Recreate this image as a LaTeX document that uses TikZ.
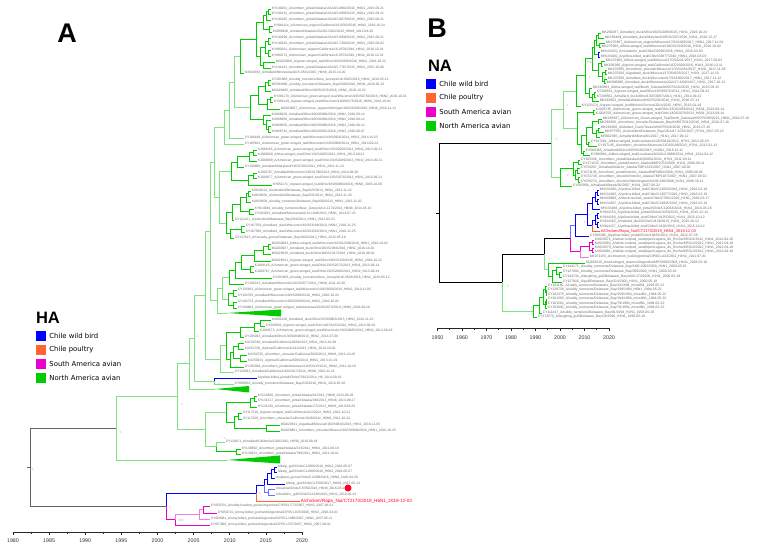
\documentclass[tikz,border=0pt]{standalone}
\usepackage{fontspec}
\setsansfont{Liberation Sans}
\newfontfamily\legendfont{DejaVu Sans}
\usetikzlibrary{positioning}
\definecolor{gdark}{RGB}{0,204,0}
\definecolor{glight}{RGB}{125,228,125}
\definecolor{cblue}{RGB}{0,0,255}
\definecolor{cbluel}{RGB}{110,110,255}
\definecolor{corange}{RGB}{255,102,51}
\definecolor{cpink}{RGB}{238,0,204}
\definecolor{cpinkl}{RGB}{242,125,228}
\definecolor{cred}{RGB}{255,0,40}
\definecolor{labgray}{RGB}{105,105,105}
\definecolor{rootgray}{RGB}{100,100,100}
\begin{document}
\catcode`\_=12\relax
\begin{tikzpicture}[
  x=1pt, y=-1pt,
  tipA/.style={anchor=west, inner sep=0.6pt, text=labgray, font=\sffamily\fontsize{3.3}{3.6}\selectfont},
  tipB/.style={tipA, font=\sffamily\fontsize{3.4}{3.6}\selectfont},
  redA/.style={tipA, text=cred, font=\sffamily\fontsize{4.6}{5}\selectfont},
  redB/.style={tipA, text=cred, font=\sffamily\fontsize{3.9}{4}\selectfont},
  rama/.style={line width=0.75pt},
  gd/.style={rama, draw=gdark},
  gl/.style={rama, draw=glight},
  bl/.style={rama, draw=cblue},
  bll/.style={rama, draw=cbluel},
  og/.style={rama, draw=corange},
  pkd/.style={rama, draw=cpink},
  pkl/.style={rama, draw=cpinkl},
  raiz/.style={line width=1pt, draw=rootgray},
  raizB/.style={line width=0.8pt, draw=black},
  sup/.style={inner sep=0pt, text=gray!70, font=\sffamily\fontsize{3}{3}\selectfont},
  eje/.style={line width=0.6pt, draw=black!85},
  anio/.style={inner sep=0pt, text=black!80, font=\sffamily\fontsize{5.3}{6}\selectfont},
  legbox/.style={fill=#1, minimum size=10pt, inner sep=0pt},
  legtext/.style={anchor=west, inner sep=0pt, font=\legendfont\fontsize{6.9}{8}\selectfont},
  panel/.style={inner sep=0pt, font=\sffamily\bfseries\fontsize{27}{30}\selectfont},
  gen/.style={inner sep=0pt, font=\sffamily\bfseries\fontsize{16.5}{18}\selectfont}
]
  \useasboundingbox (0,0) rectangle (764,553);

  % Rótulos de paneles y leyendas
  \node[panel] (pA) at (67,33) {A};
  \node[panel] (pB) at (437,28) {B};
  \node[gen] (gHA) at (48,318) {HA};
  \node[gen] (gNA) at (440,66) {NA};
  \foreach \i/\c/\t in {1/cblue/Chile wild bird, 2/corange/Chile poultry, 3/cpink/South America avian, 4/gdark/North America avian} {
    \node[legbox=\c] (qA\i) at (41,322+14*\i) {};
    \node[legtext, right=3pt of qA\i] (tA\i) {\t};
    \node[legbox=\c] (qB\i) at (431,70+14*\i) {};
    \node[legtext, right=3pt of qB\i] (tB\i) {\t};
  }

  % ---------------- Árbol HA: hojas ----------------
  \node[tipA] (h1) at (271,9) {KY100001_A/northern_pintail/Alaska/UGAI15-8882/2015_H6N1_2015-09-21};
  \node[tipA] (h2) at (271,14) {KY100132_A/northern_pintail/Alaska/UGAI15-8886/2015_H6N1_2015-09-21};
  \node[tipA] (h3) at (271,20) {KY100165_A/northern_pintail/Alaska/UGAI15-8879/2015_H6N1_2015-09-21};
  \node[tipA] (h4) at (273,26) {KY981114_A/American_wigeon/California/16-0583/2016_H6N2_2016-10-24};
  \node[tipA] (h5) at (272,32) {KX869306_A/mallard/Alaska/UGAI15-0302/2015_H6N8_2015-08-30};
  \node[tipA] (h6) at (271,38) {KY100299_A/northern_pintail/Alaska/UGAI15-8898/2015_H6N1_2015-09-21};
  \node[tipA] (h7) at (271,44) {KY100283_A/northern_pintail/Alaska/UGAI15-7300/2015_H6N1_2015-09-02};
  \node[tipA] (h8) at (271,50) {KY980261_A/American_wigeon/California/16-0578/2016_H6N2_2016-10-24};
  \node[tipA] (h9) at (271,56) {KY980173_A/American_wigeon/California/16-0573/2016_H6N2_2016-10-24};
  \node[tipA] (h10) at (275,62) {MG029266_A/green-winged_teal/Ohio/16OS2058/2016_H6N1_2016-10-22};
  \node[tipA] (h11) at (271,68) {KY101431_A/northern_pintail/Alaska/UGAI15-7767/2015_H6N1_2015-10-08};
  \node[tipA] (h12) at (244,73) {KX834383_A/mallard/Minnesota/AI15-0531/2015_H6N8_2015-10-20};
  \node[tipA] (h13) at (271,80) {CY201888_A/ruddy_turnstone/New_Jersey/AI16-0525/2016_H6N2_2016-05-12};
  \node[tipA] (h14) at (271,85) {MF094866_A/ruddy_turnstone/Delaware_Bay/0206/2016_H6N4_2016-05-23};
  \node[tipA] (h15) at (271,91) {MG029495_A/mallard/Ohio/16OS2074/2016_H6N2_2016-10-22};
  \node[tipA] (h16) at (273,97) {KY381170_A/American_green-winged_teal/Wisconsin/16OS0782/2016_H6N2_2016-10-01};
  \node[tipA] (h17) at (273,102) {KY381129_A/green-winged_teal/Wisconsin/16OS0475/2016_H6N2_2016-10-01};
  \node[tipA] (h18) at (280,109) {MG030007_A/American_wigeon/Michigan/16OS1560/2016_H6N8_2016-11-12};
  \node[tipA] (h19) at (271,115) {KX868929_A/mallard/Ohio/16OS0996/2016_H6N2_2016-09-14};
  \node[tipA] (h20) at (271,120) {KX868889_A/mallard/Ohio/16OS0982/2016_H6N2_2016-09-14};
  \node[tipA] (h21) at (271,126) {KX868950_A/mallard/Ohio/16OS0980/2016_H6N2_2016-09-14};
  \node[tipA] (h22) at (271,132) {KX868742_A/mallard/Ohio/16OS0952/2016_H6N2_2016-09-07};
  \node[tipA] (h23) at (244,138) {CY186198_A/American_green-winged_teal/Wisconsin/14OS0926/2014_H6N2_2014-10-25};
  \node[tipA] (h24) at (244,144) {CY185622_A/American_green-winged_teal/Wisconsin/14OS0966/2014_H6N1_2014-09-24};
  \node[tipA] (h25) at (257,150) {KJ208185_A/American_green-winged_teal/Ohio/13OS2056/2013_H6N2_2013-09-21};
  \node[tipA] (h26) at (257,155) {KJ208839_A/blue-winged_teal/Ohio/13OS2085/2013_H6N1_2013-09-21};
  \node[tipA] (h27) at (257,161) {KJ208899_A/American_green-winged_teal/Ohio/13OS2089/2013_H6N2_2013-09-21};
  \node[tipA] (h28) at (244,167) {CY100880_A/mallard/Maryland/13OS7910/2011_H6N1_2011-11-23};
  \node[tipA] (h29) at (257,173) {KJ208787_A/mallard/Wisconsin/13OS1798/2013_H6N2_2013-09-28};
  \node[tipA] (h30) at (257,178) {KJ208877_A/American_green-winged_teal/Ohio/13OS2076/2013_H6N1_2013-09-21};
  \node[tipA] (h31) at (272,185) {KY951171_A/green-winged_teal/Ohio/16OS0860/2016_H6N8_2016-10-08};
  \node[tipA] (h32) at (251,191) {KX834013_A/shorebird/Delaware_Bay/625/2013_H6N1_2013-11-22};
  \node[tipA] (h33) at (251,196) {KX833656_A/shorebird/Delaware_Bay/631/2013_H6N1_2013-11-28};
  \node[tipA] (h34) at (251,202) {KX833608_A/ruddy_turnstone/Delaware_Bay/600/2013_H6N1_2013-11-02};
  \node[tipA] (h35) at (254,209) {KY813984_A/ruddy_turnstone/New_Jersey/AI14-1274/2014_H6N8_2014-05-15};
  \node[tipA] (h36) at (254,214) {CY204023_A/mallard/Minnesota/AI14-1048/2014_H6N1_2014-07-23};
  \node[tipA] (h37) at (234,220) {CY121121_A/shorebird/Delaware_Bay/560/2012_H6N1_2012-05-23};
  \node[tipA] (h38) at (245,226) {CY167559_A/mallard_duck/Wisconsin/10OS3186/2010_H6N2_2010-11-25};
  \node[tipA] (h39) at (245,232) {CY167566_A/mallard_duck/Wisconsin/10OS3293/2010_H6N1_2010-11-25};
  \node[tipA] (h40) at (234,238) {CY137813_A/Canada_goose/Delaware_Bay/0420/2012_H6N1_2012-05-19};
  \node[tipA] (h41) at (271,244) {MG030903_A/blue-winged_teal/Wisconsin/16OS2308/2016_H6N1_2016-10-02};
  \node[tipA] (h42) at (271,249) {MG030927_A/mallard_duck/Ohio/16OS2384/2016_H6N2_2016-10-01};
  \node[tipA] (h43) at (271,254) {MG029536_A/mallard_duck/Ohio/16OS2347/2016_H6N4_2016-09-30};
  \node[tipA] (h44) at (271,261) {MG028541_A/green-winged_teal/Ohio/16OS2328/2016_H6N2_2016-10-22};
  \node[tipA] (h45) at (254,266) {KJ208145_A/American_green-winged_teal/Ohio/13OS2072/2013_H6N1_2013-09-14};
  \node[tipA] (h46) at (254,272) {KJ208767_A/American_green-winged_teal/Ohio/13OS2086/2013_H6N2_2013-09-28};
  \node[tipA] (h47) at (272,278) {CY201903_A/ruddy_turnstone/New_Jersey/AI16-0528/2016_H6N2_2016-05-12};
  \node[tipA] (h48) at (244,284) {CY186213_A/mallard/Wisconsin/11OS2677/2011_H6N8_2011-10-30};
  \node[tipA] (h49) at (237,290) {CY135813_A/American_green-winged_teal/Wisconsin/10OS3008/2010_H6N2_2010-11-05};
  \node[tipA] (h50) at (237,296) {CY102705_A/mallard/Wisconsin/10OS2668/2010_H6N2_2010-10-03};
  \node[tipA] (h51) at (237,302) {CY102723_A/mallard/Wisconsin/10OS2659/2010_H6N2_2010-10-03};
  \node[tipA] (h52) at (237,308) {CY100864_A/American_green-winged_teal/Arkansas/10OS2873/2010_H6N8_2010-09-28};
  \node[tipA] (h53) at (271,320) {KX881300_A/mallard_duck/Ohio/15OS0863/2015_H6N2_2015-11-10};
  \node[tipA] (h54) at (265,326) {CY209536_A/green-winged_teal/Ohio/14OS1023/2014_H6N2_2014-09-20};
  \node[tipA] (h55) at (259,331) {KJ208572_A/American_green-winged_teal/Wisconsin/13OS0985/2013_H6N2_2013-08-29};
  \node[tipA] (h56) at (244,337) {CY185093_A/mallard/Ohio/13OS0848/2013_H6N2_2013-07-09};
  \node[tipA] (h57) at (244,343) {KX251590_A/mallard/California/2839/2013_H6N1_2013-10-28};
  \node[tipA] (h58) at (244,349) {KX251700_A/pintail/California/11311/2013_H6N1_2013-10-02};
  \node[tipA] (h59) at (247,355) {KX250705_A/northern_shoveler/California/3030/2013_H6N8_2013-10-26};
  \node[tipA] (h60) at (247,361) {KX250931_A/pintail/California/3066/2013_H6N1_2013-10-19};
  \node[tipA] (h61) at (244,367) {CY165096_A/northern_pintail/Arkansas/11OS4115/2011_H6N2_2011-10-19};
  \node[tipA] (h62) at (234,372) {CY126843_A/mallard/California/10OS2917/2010_H6N8_2010-11-21};
  \node[tipA] (h63) at (257,378) {A/yellow-billed_pintail/Chile/C5612/2014_H6_2014-09-01};
  \node[tipA] (h64) at (234,384) {CY096850_A/ruddy_turnstone/Delaware_Bay/220/2010_H6N1_2010-05-28};
  \node[tipA] (h65) at (257,396) {KY219360_A/northern_pintail/Alaska/44/2013_H6N8_2013-08-26};
  \node[tipA] (h66) at (257,401) {KY131317_A/northern_pintail/Alaska/190/2013_H6N8_2013-08-27};
  \node[tipA] (h67) at (257,407) {KY131150_A/northern_pintail/Alaska/175/2013_H6N8_2013-08-25};
  \node[tipA] (h68) at (242,413) {CY117516_A/green-winged_teal/California/1112/2012_H6N2_2012-10-21};
  \node[tipA] (h69) at (242,419) {CY117028_A/northern_shoveler/California/1049/2012_H6N8_2012-10-24};
  \node[tipA] (h70) at (280,425) {MG029341_A/gadwall/Missouri/16OS0810/2016_H6N1_2016-11-05};
  \node[tipA] (h71) at (280,431) {MG028861_A/northern_shoveler/Missouri/16OS0839/2016_H6N1_2016-10-25};
  \node[tipA] (h72) at (225,442) {CY120671_A/mallard/California/1026/2010_H6N8_2010-09-18};
  \node[tipA] (h73) at (241,449) {KY130892_A/northern_pintail/Alaska/234/2011_H6N1_2011-08-18};
  \node[tipA] (h74) at (241,454) {KY130931_A/northern_pintail/Alaska/788/2011_H6N2_2011-10-01};
  \node[tipA] (h75) at (277,467) {A/kelp_gull/Chile/C12086/2016_H6N2_2016-05-07};
  \node[tipA] (h76) at (277,472) {A/kelp_gull/Chile/C12088/2016_H6N2_2016-05-07};
  \node[tipA] (h77) at (275,478) {A/upland_goose/Chile/C12089/2016_H6N8_2016-04-29};
  \node[tipA] (h78) at (285,484) {A/kelp_gull/Chile/C12506/2017_H6N8_2017-05-14};
  \node[tipA] (h79) at (275,489) {A/seafowl/Chile/C8780/2016_H6N8_2016-05-23};
  \node[tipA] (h80) at (275,495) {A/franklins_gull/Chile/C12240/2016_H6N2_2016-05-23};
  \node[redA] (h81) at (300,501) {A/chicken/Rapa_Nui/CT2170/2019_H6N1_2019-12-03};
  \node[tipA] (h82) at (210,506) {CY050702_A/ruddy-headed_goose/Argentina/CIP051-572/2007_H6N2_2007-06-01};
  \node[tipA] (h83) at (217,513) {CY050710_A/rosy-billed_pochard/Argentina/CIP051-825/2006_H6N2_2006-03-01};
  \node[tipA] (h84) at (210,519) {CY060081_A/rosy-billed_pochard/Argentina/CIP051-1966/2007_H6N2_2007-05-11};
  \node[tipA] (h85) at (210,525) {CY057866_A/rosy-billed_pochard/Argentina/CIP051-557/2007_H6N2_2007-06-01};
  \node[circle, fill=cred, minimum size=7pt, inner sep=0pt] (dot) at (348,488) {};

  % Nodos internos HA (x = fecha, y = punto medio de los hijos)
  \foreach \n/\x/\y in {a1/268/11.5, a2/266/15.8, a3/269/29, a4/263/22.4, a5/268/41, a6/268/53, a7/265/47,
      a8/263/65, a9/260/56, a10/256/39.2, a11/240/56.1, b1/268/82.5, b2/265/86.8, b3/270/99.5, b4/267/104.3,
      b5/258/95.5, c1/268/129, c2/266/124.5, c3/263/119.8, c4/250/107.6, a12/234/81.9, a13/229/110, a14/224/127,
      d1/253/152.5, d2/249/156.8, d3/237/161.9, d4/253/175.5, d5/248/180.3, d6/231/171.1,
      e1/248/193.5, e2/246/197.8, e3/249/211.5, e4/240/204.6, e5/232/212.3, e6/241/229, e7/230/233.5, e8/226/222.9,
      q1/219/197, f1/268/246.5, f2/263/250.3, f3/254/255.6, g1/250/269, g2/241/262.3, g3/235/270.2, g4/229/277.1,
      g5/233/293, g6/233/305, g7/228/299, g8/222/288, g9/217/300.5, p1/214/162, nup/210/231.3,
      i1/260/323, i2/254/327, i3/240/332, i4/238/346, i5/240/358, i6/233/352, i7/230/359.5, i8/226/345.8, i9/220/358.9,
      nb/205/295.1, n64/214/381, u1b/194/338, u1a/189/363.5,
      k1/254/398.5, k2/250/402.8, k3/238/416, k4/266/428, k5/234/422, k6/226/412.4, k7/236/451.5, k8/216/446.8,
      kk/205/429.6, u1/177/396.6, hu/116/428.3,
      m1/274/469.5, m2/271/473.8, m3/267/478.9, m4/268/492, m5/264/485.4, m6/256/493.2,
      s1k/203/509.5, s2k/199/514.3, sk/175/519.6, hl/166/506.4, hroot/30/467.4,
      tri1/227/313, tri2/215/389, tri3/227/460}
    \coordinate (\n) at (\x,\y);

  % Clados colapsados
  \fill[gdark] (tri1) -- (281,309.5) -- (281,316.5) -- cycle;
  \fill[gdark] (tri2) -- (249,386) -- (249,392.5) -- cycle;
  \fill[gdark] (tri3) -- (280,455.5) -- (280,463.5) -- cycle;

  % Ramas HA
  \draw[raiz] (27,467.4) -- (hroot);
  \foreach \p/\c in {hroot/hu, hroot/hl} \draw[raiz] (\p) |- (\c);
  \foreach \p/\c in {hu/u1, hu/tri3, u1/u1a, u1/kk, u1a/u1b, u1a/tri2, u1b/nb, u1b/n64, n64/h64, nb/nup, nb/i9,
      nup/p1, nup/g9, p1/a14, p1/q1, a14/a13, a14/h24, a13/a12, a13/h23, a12/a11, a12/c4, q1/d6, q1/e8,
      g9/g8, g9/tri1, g8/g4, g8/g7, kk/k6, kk/k8, k8/h72, i9/i8, i9/h62}
    \draw[gl] (\p) |- (\c);
  \foreach \p/\c in {a1/h1, a1/h2, a2/a1, a2/h3, a3/h4, a3/h5, a4/a2, a4/a3, a5/h6, a5/h7, a6/h8, a6/h9, a7/a5, a7/a6,
      a8/h10, a8/h11, a9/a7, a9/a8, a10/a4, a10/a9, a11/a10, a11/h12, b1/h13, b1/h14, b2/b1, b2/h15, b3/h16, b3/h17,
      b4/b3, b4/h18, b5/b2, b5/b4, c1/h21, c1/h22, c2/h20, c2/c1, c3/h19, c3/c2, c4/b5, c4/c3,
      d1/h25, d1/h26, d2/d1, d2/h27, d3/d2, d3/h28, d4/h29, d4/h30, d5/d4, d5/h31, d6/d3, d6/d5,
      e1/h32, e1/h33, e2/e1, e2/h34, e3/h35, e3/h36, e4/e2, e4/e3, e5/e4, e5/h37, e6/h38, e6/h39, e7/e6, e7/h40,
      e8/e5, e8/e7, f1/h41, f1/h42, f2/f1, f2/h43, f3/f2, f3/h44, g1/h45, g1/h46, g2/f3, g2/g1, g3/g2, g3/h47,
      g4/g3, g4/h48, g5/h49, g5/h50, g6/h51, g6/h52, g7/g5, g7/g6, i1/h53, i1/h54, i2/i1, i2/h55, i3/i2, i3/h56,
      i4/h57, i4/h58, i5/h59, i5/h60, i6/i4, i6/i5, i7/i6, i7/h61, i8/i3, i8/i7, k1/h65, k1/h66, k2/k1, k2/h67,
      k3/h68, k3/h69, k4/h70, k4/h71, k5/k3, k5/k4, k6/k2, k6/k5, k7/h73, k7/h74, k8/k7}
    \draw[gd] (\p) |- (\c);
  \foreach \p/\c in {n64/h63, hl/m6, m6/m5, m5/m3, m3/m2, m3/h78, m2/m1, m2/h77, m1/h75, m1/h76}
    \draw[bl] (\p) |- (\c);
  \foreach \p/\c in {m5/m4, m4/h79, m4/h80} \draw[bll] (\p) |- (\c);
  \draw[og] (m6) |- (h81);
  \foreach \p/\c in {hl/sk, sk/h85, s1k/h82, s1k/h83} \draw[pkd] (\p) |- (\c);
  \foreach \p/\c in {sk/s2k, s2k/s1k, s2k/h84} \draw[pkl] (\p) |- (\c);

  % Soportes HA
  \foreach \n/\x/\y/\t in {sa1/33/469/1, sa2/121/432/1, sa3/182/404/1, sa4/186/362/1, sa5/198/336/1,
      sa6/219/383/1, sa7/225/438/1, sa8/170/507/1, sa9/181/520/0.97, sa10/260/493/1, sa11/263/482/1}
    \node[sup] (\n) at (\x,\y) {\t};

  % Eje de tiempo HA
  \draw[eje] (13,532) -- (302,532);
  \foreach \a in {1980,1985,...,2020} {
    \pgfmathsetmacro{\xa}{13+(\a-1980)*7.225}
    \draw[eje] (\xa,532) -- (\xa,535);
    \node[anio] (ya\a) at (\xa,541) {\a};
  }
  \foreach \i in {0,...,7} {
    \pgfmathsetmacro{\xa}{13+(2.5+5*\i)*7.225}
    \draw[eje] (\xa,532) -- (\xa,533.8);
  }

  % ---------------- Árbol NA: hojas ----------------
  \node[tipB] (w33) at (601,33) {MK260087_A/mallard_duck/Ohio/16OS2088/2016_H1N1_2016-10-24};
  \node[tipB] (w38) at (604,38) {MK259449_A/mallard_duck/Maryland/16OS2207/2016_H1N1_2016-12-17};
  \node[tipB] (w43) at (605,43) {MK237867_A/American_wigeon/Missouri/17OS4188/2017_H6N1_2017-11-04};
  \node[tipB] (w47) at (601,47) {MK275969_A/blue-winged_teal/Wisconsin/16OS2229/2016_H1N1_2016-10-02};
  \node[tipB] (w52) at (600,52) {MH134070_A/cinnamon_teal/Chile/C6895/2016_H6N1_2016-03-03};
  \node[tipB] (w57) at (600,57) {MH134020_A/yellow-billed_teal/Chile/C6877/2016_H6N1_2016-03-03};
  \node[tipB] (w61) at (605,61) {MK237960_A/blue-winged_teal/Missouri/17OS4221/2017_H1N1_2017-09-02};
  \node[tipB] (w66) at (603,66) {MK693286_A/green-winged_teal/California/UCD2028/2016_H1N1_2016-12-11};
  \node[tipB] (w70) at (607,70) {MK237805_A/northern_shoveler/Missouri/17OS4451/2017_H1N1_2017-11-06};
  \node[tipB] (w74) at (607,74) {MK237826_A/gadwall_duck/Missouri/17OS4525/2017_H1N1_2017-11-13};
  \node[tipB] (w79) at (607,79) {MK237950_A/mallard_duck/Wisconsin/17OS4366/2017_H6N1_2017-11-12};
  \node[tipB] (w83) at (606,83) {MK806986_A/mallard_duck/Minnesota/UGAI17-4208/2017_H1N1_2017-10-21};
  \node[tipB] (w88) at (592,88) {MK263863_A/blue-winged_teal/North_Dakota/AH0075244/2015_H1N1_2015-09-15};
  \node[tipB] (w92) at (596,92) {KT208531_A/green-winged_teal/Ohio/13OS0970/2014_H1N1_2014-09-22};
  \node[tipB] (w97) at (596,97) {KT208561_A/mallard_duck/Ohio/13OS2097/2014_H1N1_2014-09-22};
  \node[tipB] (w101) at (599,101) {MK263803_A/mallard/Idaho/AH0075292/2016_H1N1_2016-07-13};
  \node[tipB] (w106) at (581,106) {KY125174_A/green-winged_teal/Mexico/Sonora/2014/2015_H6N1_2015-01-19};
  \node[tipB] (w110) at (595,110) {KJ208735_A/American_green-winged_teal/Ohio/13OS2056/2013_H6N1_2013-09-14};
  \node[tipB] (w114) at (595,114) {KJ208750_A/American_green-winged_teal/Ohio/13OS2078/2013_H6N1_2013-09-14};
  \node[tipB] (w119) at (602,119) {MK263837_A/American_Green-winged_Teal/North_Dakota/AH0075296/2016_H6N1_2016-07-16};
  \node[tipB] (w123) at (599,123) {MK263856_A/northern_shoveler/Delaware_Bay/AH0075312/2016_H6N1_2016-07-16};
  \node[tipB] (w128) at (600,128) {MK263868_A/Mallard_Duck/Texas/AH0075318/2016_H6N1_2016-07-16};
  \node[tipB] (w132) at (604,132) {MK877565_A/shorebird/Delaware_Bay/UGAI17-1032/2017_H7N1_2017-05-22};
  \node[tipB] (w137) at (600,137) {MH002395_A/mallard/Alberta/61/2017_H1N1_2017-09-12};
  \node[tipB] (w142) at (590,142) {CY147261_A/blue-winged_teal/Louisiana/12OS0410/2012_H7N1_2012-03-29};
  \node[tipB] (w146) at (597,146) {CY197145_A/northern_shoveler/Arkansas/12OS0198/2012_H7N1_2012-01-13};
  \node[tipB] (w151) at (585,151) {KY580365_A/mallard/Ohio/16OS0540/2015_H10N1_2015-11-11};
  \node[tipB] (w155) at (590,155) {KY380084_A/blue-winged_teal/Louisiana/UGAI14-3886/2014_H5N1_2014-04-12};
  \node[tipB] (w160) at (580,160) {CY165346_A/northern_pintail/Alaska/44OS0931/2011_H7N1_2011-09-11};
  \node[tipB] (w164) at (582,164) {CY171232_A/northern_pintail/Interior_Alaska/8MP0752/2008_H1N1_2008-09-11};
  \node[tipB] (w168) at (580,168) {CY076267_A/mallard/Interior_Alaska/7MP1315/2007_H1N1_2007-09-02};
  \node[tipB] (w173) at (580,173) {CY071139_A/northern_pintail/Interior_Alaska/8MP0882/2008_H1N1_2008-09-03};
  \node[tipB] (w177) at (580,177) {CY072728_A/northern_shoveler/Interior_Alaska/7MP1187/2007_H1N1_2007-09-10};
  \node[tipB] (w182) at (580,182) {CY076270_A/northern_shoveler/Washington/44249-180/2008_H1N1_2008-10-11};
  \node[tipB] (w186) at (572,186) {CY055994_A/mallard/Alberta/92/2007_H1N1_2007-08-22};
  \node[tipB] (w190) at (599,190) {MH134030_A/yellow-billed_teal/Chile/C13850/2016_H1N1_2016-02-19};
  \node[tipB] (w195) at (599,195) {MH134045_A/yellow-billed_teal/Chile/C13877/2016_H1N1_2016-02-19};
  \node[tipB] (w199) at (599,199) {MH449866_A/black-necked_swan/Chile/C7801/2016_H1N1_2016-03-17};
  \node[tipB] (w204) at (599,204) {MH134027_A/yellow-billed_teal/Chile/C13845/2016_H1N1_2016-02-19};
  \node[tipB] (w209) at (600,209) {MH134036_A/yellow-billed_pintail/Chile/C12063/2016_H1N1_2016-05-23};
  \node[tipB] (w213) at (599,213) {KY944153_A/yellow-billed_pintail/Chile/C4250/2015_H1N1_2015-12-14};
  \node[tipB] (w218) at (599,218) {KY944160_A/yellow-billed_teal/Chile/C4125/2015_H1N1_2015-10-12};
  \node[tipB] (w222) at (599,222) {KY944165_A/mallard_duck/Chile/C4128/2015_H1N1_2015-10-12};
  \node[tipB] (w227) at (599,227) {KY944157_A/yellow-billed_teal/Chile/C4126/2015_H1N1_2015-10-12};
  \node[redB] (w231) at (600,231) {A/Chicken/Rapa_Nui/CT2170/2019_H6N1_2019-12-03};
  \node[tipB] (w236) at (589,236) {CY200186_A/yellow-billed_pintail/Chile/10833/2012_H1N1_2012-07-28};
  \node[tipB] (w240) at (594,240) {KX620071_A/white-rumped_sandpiper/Laguna_de_Rocha/KRG11/2012_H1N1_2012-04-18};
  \node[tipB] (w244) at (594,244) {KX620083_A/white-rumped_sandpiper/Laguna_de_Rocha/KRG12/2012_H1N1_2012-04-18};
  \node[tipB] (w248) at (594,248) {KX620070_A/white-rumped_sandpiper/Laguna_de_Rocha/KRG10/2012_H1N1_2012-04-18};
  \node[tipB] (w252) at (594,252) {KX620081_A/white-rumped_sandpiper/Laguna_de_Rocha/KRG13/2012_H1N1_2012-04-18};
  \node[tipB] (w257) at (589,257) {MK071155_A/cinnamon_teal/Argentina/CIP051-A32/2011_H1N1_2011-07-01};
  \node[tipB] (w263) at (585,263) {SQ282610_A/red-winged_tinamou/Argentina/MP52805/2008_H1N1_2008-03-10};
  \node[tipB] (w267) at (562,267) {CY144171_A/ruddy_turnstone/Delaware_Bay/AI00-1082/2000_H1N1_2000-05-15};
  \node[tipB] (w272) at (562,272) {CY127804_A/ruddy_turnstone/Delaware_Bay/289/2000_H1N1_2000-05-18};
  \node[tipB] (w277) at (562,277) {CY144734_A/laughing_gull/Delaware_Bay/AI00-473/2000_H1N1_2000-05-19};
  \node[tipB] (w282) at (562,282) {CY127816_A/gull/Delaware_Bay/514/2000_H1N1_2000-05-18};
  \node[tipB] (w286) at (547,286) {CY101180_A/ruddy_turnstone/Delaware_Bay/34/1994_mixedN1_1994-05-22};
  \node[tipB] (w290) at (547,290) {CY128758_A/ruddy_turnstone/Delaware_Bay/139/1994_H6N1_1994-05-22};
  \node[tipB] (w295) at (547,295) {CY102375_A/ruddy_turnstone/Delaware_Bay/159/1994_mixedN1_1994-05-22};
  \node[tipB] (w299) at (547,299) {CY101383_A/ruddy_turnstone/Delaware_Bay/194/1994_mixedN1_1994-05-22};
  \node[tipB] (w304) at (547,304) {CY101562_A/ruddy_turnstone/Delaware_Bay/79/1994_mixedN1_1994-05-22};
  \node[tipB] (w308) at (547,308) {CY101092_A/ruddy_turnstone/Delaware_Bay/70/1994_mixedN1_1994-05-22};
  \node[tipB] (w313) at (542,313) {CY111447_A/ruddy_turnstone/Delaware_Bay/91/1993_H2N1_1993-05-15};
  \node[tipB] (w317) at (537,317) {CY172570_A/laughing_gull/Delaware_Bay/16/1990_H2N1_1990-05-18};

  % Nodos internos NA
  \foreach \n/\x/\y in {Bd1/598/35.5, Bd2/599/45, Bd3/596/40.3, Bd4/598/54.5, Bd5/594/47.4, Bd6/601/63.5,
      Bd7/605/72, Bd8/604/81, Bd9/602/76.5, Bd10/598/70, Bd/592/58.7, Be1/594/94.5, Be2/592/97.8, Be/589/92.9,
      Bc/585/75.8, Bb/576/90.9, Bp/593/112, Bg1/598/121, Bg2/598/130, Bg3/596/133.5, Bg4/592/127.3,
      Bg5/588/144, Bg6/586/135.6, Bg7/583/153, Bg/581/144.3, Bgp/577/128.2, Ba/563/109.5,
      Bf1/578/162, Bf2/577/170.5, Bf3/578/179.5, Bf4/575/175, Bf5/573/168.5, Bf/560/177.3, BU/551/143.4,
      Bl1/597/192.5, Bl2/597/201.5, Bl3/595/197, Bl4/592/203, Bl5/597/215.5, Bl6/597/224.5, Bl7/595/220,
      Bl8/592/225.5, Bl9/587/214.3, Bbl/575/225.1, Bk1/592/242, Bk2/592/250, Bk3/589/246, Bk/580/251.5,
      Blb/570/238.3, Bq1/559/274.5, Bq2/556/270.8, Bq3/552/276.4, Bq4/548/269.7, BL1/544/254,
      Br1/546/301.5, Br2/545/304.8, Br3/546/292.5, Br4/545/289.3, Br5/543/297, Br6/539/305, Br7/533/311,
      BL/502/282.5, Broot/439/213}
    \coordinate (\n) at (\x,\y);

  % Ramas NA
  \draw[raizB] (436,213) -- (Broot);
  \foreach \p/\c in {Broot/BU, Broot/BL, BL/BL1, BL1/Blb} \draw[raizB] (\p) |- (\c);
  \foreach \p/\c in {BU/Ba, BU/Bf, Ba/Bb, Ba/Bgp, BL/Br7, BL1/Bq4} \draw[gl] (\p) |- (\c);
  \foreach \p/\c in {Bb/Bc, Bb/w106, Bc/Bd, Bc/Be, Bd/Bd5, Bd/Bd10, Bd5/Bd3, Bd5/Bd4, Bd3/Bd1, Bd3/Bd2,
      Bd1/w33, Bd1/w38, Bd2/w43, Bd2/w47, Bd10/Bd6, Bd10/Bd9, Bd6/w61, Bd6/w66, Bd9/Bd7, Bd9/Bd8,
      Bd7/w70, Bd7/w74, Bd8/w79, Bd8/w83, Be/w88, Be/Be2, Be2/Be1, Be2/w101, Be1/w92, Be1/w97,
      Bgp/Bp, Bgp/Bg, Bp/w110, Bp/w114, Bg/Bg6, Bg/Bg7, Bg6/Bg4, Bg6/Bg5, Bg4/Bg1, Bg4/Bg3, Bg1/w119, Bg1/w123,
      Bg3/Bg2, Bg3/w137, Bg2/w128, Bg2/w132, Bg5/w142, Bg5/w146, Bg7/w151, Bg7/w155, Bf/Bf5, Bf/w186,
      Bf5/Bf1, Bf5/Bf4, Bf1/w160, Bf1/w164, Bf4/Bf2, Bf4/Bf3, Bf2/w168, Bf2/w173, Bf3/w177, Bf3/w182,
      Bq4/w263, Bq4/Bq3, Bq3/Bq2, Bq3/w282, Bq2/w267, Bq2/Bq1, Bq1/w272, Bq1/w277, Br7/Br6, Br7/w317,
      Br6/Br5, Br6/w313, Br5/Br4, Br5/Br2, Br4/w286, Br4/Br3, Br3/w290, Br3/w295, Br2/Br1, Br2/w308,
      Br1/w299, Br1/w304}
    \draw[gd] (\p) |- (\c);
  \foreach \p/\c in {Bd4/w52, Bd4/w57, Bbl/Bl9, Bbl/w236, Bl9/Bl4, Bl9/Bl8, Bl4/Bl3, Bl4/w209, Bl3/Bl1, Bl3/Bl2,
      Bl1/w190, Bl1/w195, Bl2/w199, Bl2/w204, Bl8/Bl7, Bl7/Bl5, Bl7/Bl6, Bl5/w213, Bl5/w218, Bl6/w222, Bl6/w227}
    \draw[bl] (\p) |- (\c);
  \draw[bll] (Blb) |- (Bbl);
  \draw[og] (Bl8) |- (w231);
  \foreach \p/\c in {Blb/Bk, Bk/Bk3, Bk3/Bk1, Bk3/Bk2, Bk1/w240, Bk1/w244, Bk2/w248, Bk2/w252}
    \draw[pkd] (\p) |- (\c);
  \draw[pkl] (Bk) |- (w257);

  % Soportes NA
  \foreach \n/\x/\y/\t in {sb1/557/139/1, sb2/508/286/1, sb3/550/259/1, sb4/568/105/1, sb5/590/62/0.99,
      sb6/568/175/1, sb7/588/190/1, sb8/585/222/1, sb9/567/237/1, sb10/583/258/1, sb11/532/307/1, sb12/590/77/1}
    \node[sup] (\n) at (\x,\y) {\t};

  % Eje de tiempo NA
  \draw[eje] (437.5,328) -- (609,328);
  \foreach \a in {1950,1960,...,2020} {
    \pgfmathsetmacro{\xa}{437.5+(\a-1950)*2.45}
    \draw[eje] (\xa,328) -- (\xa,331);
    \node[anio] (yb\a) at (\xa,338) {\a};
  }
  \foreach \i in {0,...,6} {
    \pgfmathsetmacro{\xa}{437.5+(5+10*\i)*2.45}
    \draw[eje] (\xa,328) -- (\xa,329.8);
  }
\end{tikzpicture}
\end{document}
